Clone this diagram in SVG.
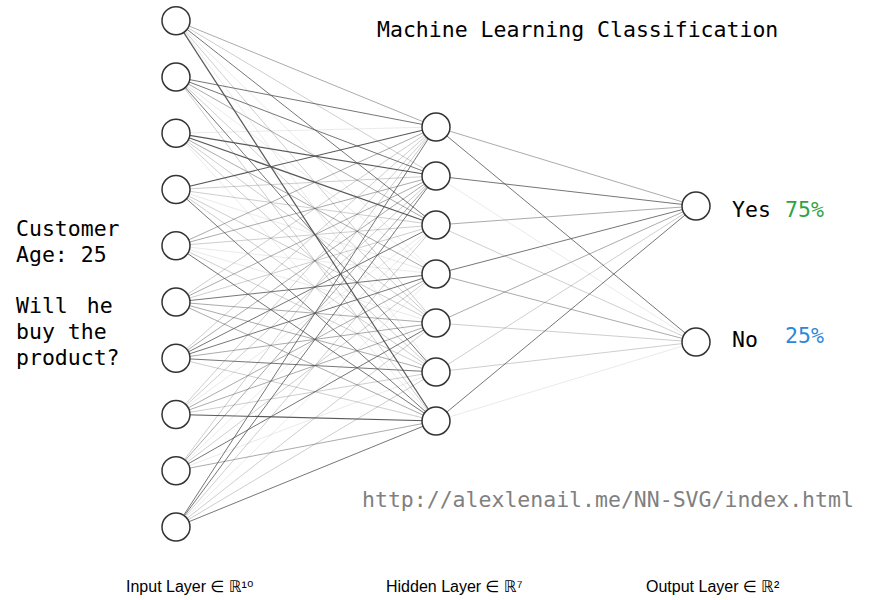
<svg xmlns="http://www.w3.org/2000/svg" width="890" height="600" viewBox="0 0 890 600">
<style>
line{stroke:#505050;stroke-width:1}
.e1{stroke-opacity:0.12}
.e2{stroke-opacity:0.28}
.e3{stroke-opacity:0.48}
.e4{stroke-opacity:0.78}
.e5{stroke-opacity:0.95;stroke-width:1.2}
circle{fill:#fff;stroke:#333;stroke-width:1.5}
.mono{font-family:"DejaVu Sans Mono","Liberation Mono",monospace;font-size:21.5px;fill:#000}
.lbl{font-family:"Liberation Sans","DejaVu Sans",sans-serif;font-size:16px;fill:#000}
</style>
<rect width="890" height="600" fill="#fff"/>
<g id="connectors">
<line x1="176" y1="20.7" x2="436" y2="127" class="e3"/>
<line x1="176" y1="20.7" x2="436" y2="176" class="e2"/>
<line x1="176" y1="20.7" x2="436" y2="225" class="e4"/>
<line x1="176" y1="20.7" x2="436" y2="274" class="e1"/>
<line x1="176" y1="20.7" x2="436" y2="323" class="e2"/>
<line x1="176" y1="20.7" x2="436" y2="372" class="e1"/>
<line x1="176" y1="20.7" x2="436" y2="421" class="e5"/>
<line x1="176" y1="77" x2="436" y2="127" class="e4"/>
<line x1="176" y1="77" x2="436" y2="176" class="e4"/>
<line x1="176" y1="77" x2="436" y2="225" class="e3"/>
<line x1="176" y1="77" x2="436" y2="274" class="e1"/>
<line x1="176" y1="77" x2="436" y2="323" class="e2"/>
<line x1="176" y1="77" x2="436" y2="372" class="e4"/>
<line x1="176" y1="77" x2="436" y2="421" class="e2"/>
<line x1="176" y1="133.2" x2="436" y2="127" class="e1"/>
<line x1="176" y1="133.2" x2="436" y2="176" class="e5"/>
<line x1="176" y1="133.2" x2="436" y2="225" class="e5"/>
<line x1="176" y1="133.2" x2="436" y2="274" class="e3"/>
<line x1="176" y1="133.2" x2="436" y2="323" class="e2"/>
<line x1="176" y1="133.2" x2="436" y2="372" class="e2"/>
<line x1="176" y1="133.2" x2="436" y2="421" class="e1"/>
<line x1="176" y1="189.5" x2="436" y2="127" class="e5"/>
<line x1="176" y1="189.5" x2="436" y2="176" class="e2"/>
<line x1="176" y1="189.5" x2="436" y2="225" class="e2"/>
<line x1="176" y1="189.5" x2="436" y2="274" class="e1"/>
<line x1="176" y1="189.5" x2="436" y2="323" class="e2"/>
<line x1="176" y1="189.5" x2="436" y2="372" class="e2"/>
<line x1="176" y1="189.5" x2="436" y2="421" class="e4"/>
<line x1="176" y1="245.7" x2="436" y2="127" class="e3"/>
<line x1="176" y1="245.7" x2="436" y2="176" class="e3"/>
<line x1="176" y1="245.7" x2="436" y2="225" class="e2"/>
<line x1="176" y1="245.7" x2="436" y2="274" class="e1"/>
<line x1="176" y1="245.7" x2="436" y2="323" class="e1"/>
<line x1="176" y1="245.7" x2="436" y2="372" class="e2"/>
<line x1="176" y1="245.7" x2="436" y2="421" class="e4"/>
<line x1="176" y1="302" x2="436" y2="127" class="e2"/>
<line x1="176" y1="302" x2="436" y2="176" class="e3"/>
<line x1="176" y1="302" x2="436" y2="225" class="e2"/>
<line x1="176" y1="302" x2="436" y2="274" class="e4"/>
<line x1="176" y1="302" x2="436" y2="323" class="e3"/>
<line x1="176" y1="302" x2="436" y2="372" class="e3"/>
<line x1="176" y1="302" x2="436" y2="421" class="e3"/>
<line x1="176" y1="358.2" x2="436" y2="127" class="e2"/>
<line x1="176" y1="358.2" x2="436" y2="176" class="e3"/>
<line x1="176" y1="358.2" x2="436" y2="225" class="e4"/>
<line x1="176" y1="358.2" x2="436" y2="274" class="e4"/>
<line x1="176" y1="358.2" x2="436" y2="323" class="e3"/>
<line x1="176" y1="358.2" x2="436" y2="372" class="e4"/>
<line x1="176" y1="358.2" x2="436" y2="421" class="e2"/>
<line x1="176" y1="414.5" x2="436" y2="127" class="e2"/>
<line x1="176" y1="414.5" x2="436" y2="176" class="e2"/>
<line x1="176" y1="414.5" x2="436" y2="225" class="e1"/>
<line x1="176" y1="414.5" x2="436" y2="274" class="e3"/>
<line x1="176" y1="414.5" x2="436" y2="323" class="e3"/>
<line x1="176" y1="414.5" x2="436" y2="372" class="e2"/>
<line x1="176" y1="414.5" x2="436" y2="421" class="e5"/>
<line x1="176" y1="470.7" x2="436" y2="127" class="e2"/>
<line x1="176" y1="470.7" x2="436" y2="176" class="e3"/>
<line x1="176" y1="470.7" x2="436" y2="225" class="e1"/>
<line x1="176" y1="470.7" x2="436" y2="274" class="e2"/>
<line x1="176" y1="470.7" x2="436" y2="323" class="e4"/>
<line x1="176" y1="470.7" x2="436" y2="372" class="e1"/>
<line x1="176" y1="470.7" x2="436" y2="421" class="e3"/>
<line x1="176" y1="527" x2="436" y2="127" class="e4"/>
<line x1="176" y1="527" x2="436" y2="176" class="e4"/>
<line x1="176" y1="527" x2="436" y2="225" class="e2"/>
<line x1="176" y1="527" x2="436" y2="274" class="e1"/>
<line x1="176" y1="527" x2="436" y2="323" class="e2"/>
<line x1="176" y1="527" x2="436" y2="372" class="e2"/>
<line x1="176" y1="527" x2="436" y2="421" class="e4"/>
<line x1="436" y1="127" x2="696" y2="206" class="e3"/>
<line x1="436" y1="127" x2="696" y2="342" class="e4"/>
<line x1="436" y1="176" x2="696" y2="206" class="e4"/>
<line x1="436" y1="176" x2="696" y2="342" class="e1"/>
<line x1="436" y1="225" x2="696" y2="206" class="e3"/>
<line x1="436" y1="225" x2="696" y2="342" class="e2"/>
<line x1="436" y1="274" x2="696" y2="206" class="e4"/>
<line x1="436" y1="274" x2="696" y2="342" class="e3"/>
<line x1="436" y1="323" x2="696" y2="206" class="e3"/>
<line x1="436" y1="323" x2="696" y2="342" class="e2"/>
<line x1="436" y1="372" x2="696" y2="206" class="e2"/>
<line x1="436" y1="372" x2="696" y2="342" class="e2"/>
<line x1="436" y1="421" x2="696" y2="206" class="e4"/>
<line x1="436" y1="421" x2="696" y2="342" class="e1"/>
</g>
<g id="input-1"><circle cx="176" cy="20.7" r="14"/></g>
<g id="input-2"><circle cx="176" cy="77" r="14"/></g>
<g id="input-3"><circle cx="176" cy="133.2" r="14"/></g>
<g id="input-4"><circle cx="176" cy="189.5" r="14"/></g>
<g id="input-5"><circle cx="176" cy="245.7" r="14"/></g>
<g id="input-6"><circle cx="176" cy="302" r="14"/></g>
<g id="input-7"><circle cx="176" cy="358.2" r="14"/></g>
<g id="input-8"><circle cx="176" cy="414.5" r="14"/></g>
<g id="input-9"><circle cx="176" cy="470.7" r="14"/></g>
<g id="input-10"><circle cx="176" cy="527" r="14"/></g>
<g id="hidden-1"><circle cx="436" cy="127" r="14"/></g>
<g id="hidden-2"><circle cx="436" cy="176" r="14"/></g>
<g id="hidden-3"><circle cx="436" cy="225" r="14"/></g>
<g id="hidden-4"><circle cx="436" cy="274" r="14"/></g>
<g id="hidden-5"><circle cx="436" cy="323" r="14"/></g>
<g id="hidden-6"><circle cx="436" cy="372" r="14"/></g>
<g id="hidden-7"><circle cx="436" cy="421" r="14"/></g>
<g id="output-yes"><circle cx="696" cy="206" r="14"/>
<text class="mono" x="732" y="217">Yes</text>
<text class="mono" x="785" y="217" style="fill:#2ea43e">75%</text></g>
<g id="output-no"><circle cx="696" cy="342" r="14"/>
<text class="mono" x="732" y="347">No</text>
<text class="mono" x="785" y="343" style="fill:#2b87db">25%</text></g>
<g id="texts">
<text class="mono" x="377" y="37">Machine Learning Classification</text>
<text class="mono" x="16" y="236">Customer</text>
<text class="mono" x="16" y="262">Age: 25</text>
<text class="mono" x="16" y="313" word-spacing="6">Will he</text>
<text class="mono" x="16" y="339">buy the</text>
<text class="mono" x="16" y="365">product?</text>
<text class="mono" x="362" y="507" style="fill:#808080">http://alexlenail.me/NN-SVG/index.html</text>
<text class="lbl" x="126" y="592">Input Layer ∈ ℝ¹⁰</text>
<text class="lbl" x="386" y="592">Hidden Layer ∈ ℝ⁷</text>
<text class="lbl" x="646" y="592">Output Layer ∈ ℝ²</text>
</g>
</svg>
